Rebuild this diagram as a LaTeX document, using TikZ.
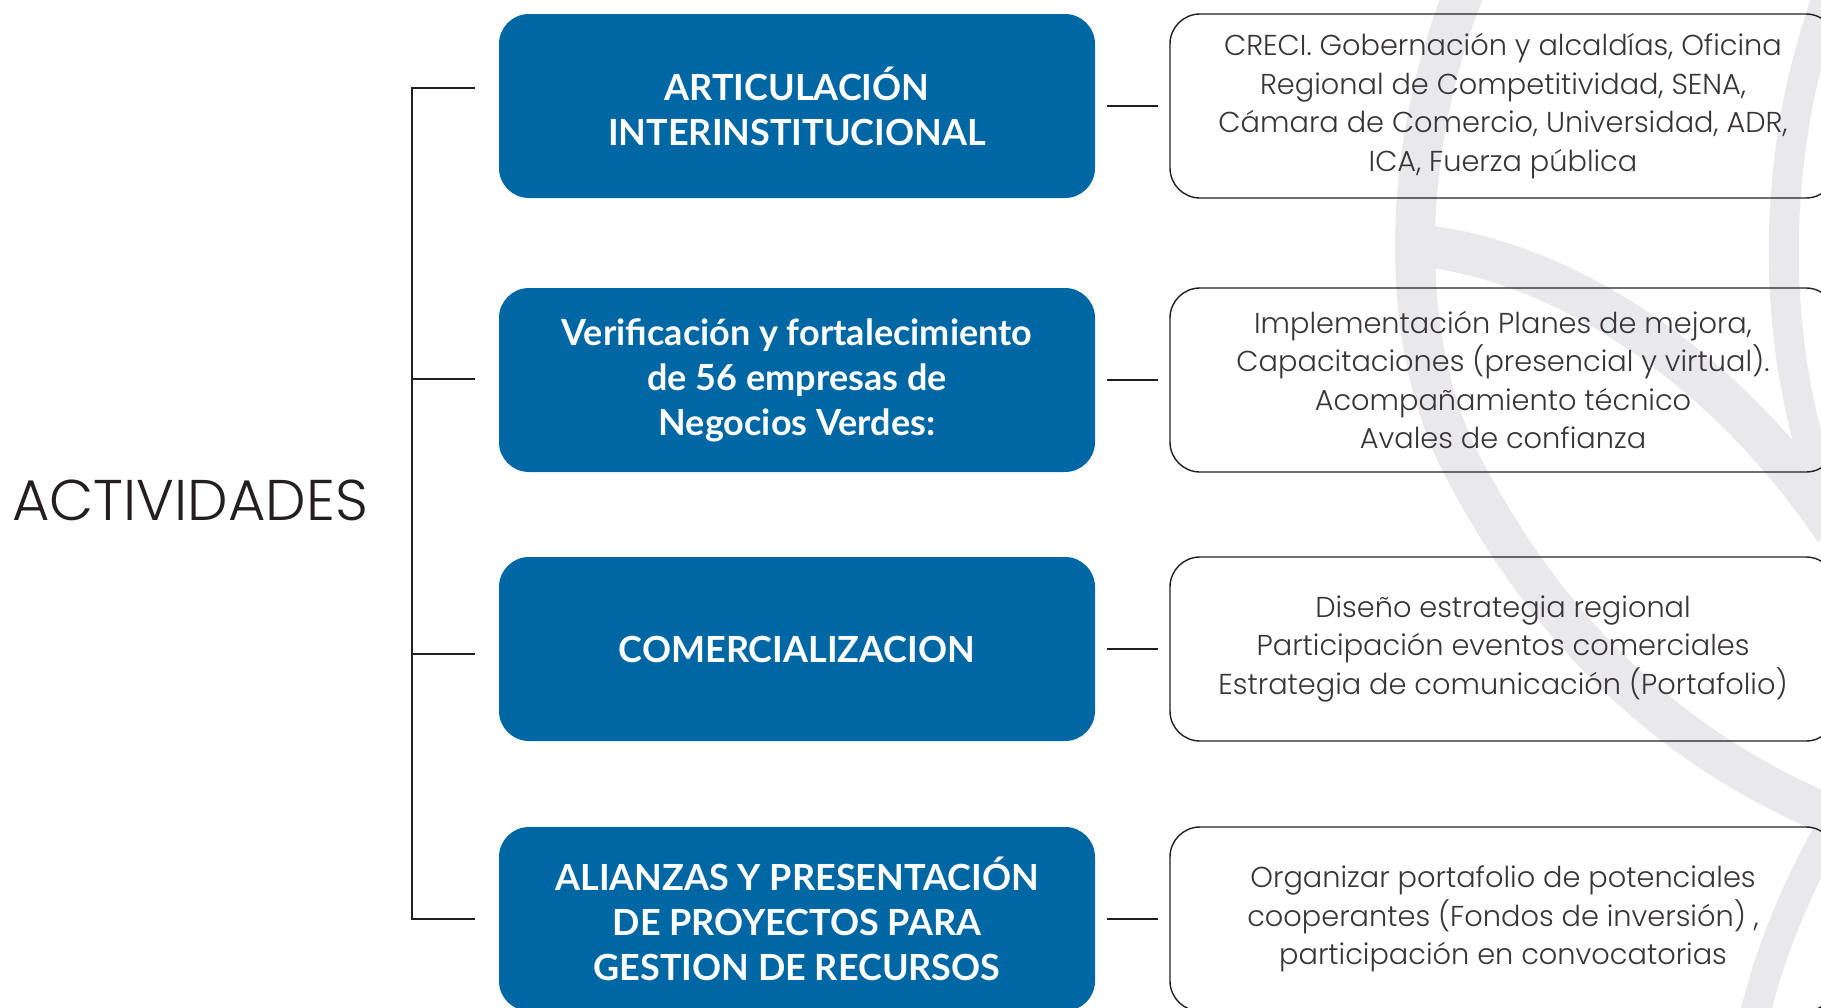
\documentclass[tikz,border=0pt]{standalone}
\usepackage{fontspec}
\setmainfont{Lato}
\newfontfamily\lightfont{Poppins Light}
\definecolor{azul}{HTML}{0067A5}
\definecolor{gris}{HTML}{E9E9EB}
\definecolor{tinta}{HTML}{231F20}
\begin{document}
\begin{tikzpicture}[x=0.5pt,y=-0.5pt]
\tikzstyle{actividad}=[rectangle,rounded corners=15pt,fill=azul,text=white,minimum width=298pt,minimum height=92pt,align=center,font=\fontsize{18}{22.5}\selectfont\bfseries]
\tikzstyle{detalle}=[rectangle,rounded corners=15pt,draw=tinta,line width=0.7pt,minimum width=333pt,minimum height=92pt,align=center,text=tinta!90,font=\fontsize{14.4}{19.25}\selectfont\lightfont]
\tikzstyle{marca}=[draw=gris,line cap=butt]
\tikzstyle{linea}=[draw=tinta,line width=1pt]
\clip (0,0) rectangle (1821,1007);
% logo de fondo
\draw[marca,line width=20pt] (1465,-10) .. controls (1400,150) and (1395,350) .. (1470,480) .. controls (1540,610) and (1650,740) .. (1830,815);
\draw[marca,line width=15pt] (1830,-10) .. controls (1770,150) and (1765,350) .. (1835,520);
\draw[marca,line width=21pt] (1425,246) .. controls (1560,262) and (1720,360) .. (1835,530);
\draw[marca,line width=15pt] (1835,820) .. controls (1800,880) and (1770,950) .. (1755,1015);
% titulo
\node[inner sep=0pt,text=tinta,font=\fontsize{28.7}{32}\selectfont\lightfont](titulo) at (190,500) {ACTIVIDADES};
% actividades
\node[actividad](a1) at (797,106) {ARTICULACIÓN\\INTERINSTITUCIONAL};
\node[actividad](a2) at (797,380) {Verificación y fortalecimiento\\de 56 empresas de\\Negocios Verdes:};
\node[actividad](a3) at (797,649) {COMERCIALIZACION};
\node[actividad](a4) at (797,919) {ALIANZAS Y PRESENTACIÓN\\DE PROYECTOS PARA\\GESTION DE RECURSOS};
% detalles
\node[detalle](d1) at (1503,106) {CRECI. Gobernación y alcaldías, Oficina\\Regional de Competitividad, SENA,\\Cámara de Comercio, Universidad, ADR,\\ICA, Fuerza pública};
\node[detalle](d2) at (1503,380) {Implementación Planes de mejora,\\Capacitaciones (presencial y virtual).\\Acompañamiento técnico\\Avales de confianza};
\node[detalle](d3) at (1503,649) {Diseño estrategia regional\\Participación eventos comerciales\\Estrategia de comunicación (Portafolio)};
\node[detalle](d4) at (1503,919) {Organizar portafolio de potenciales\\cooperantes (Fondos de inversión) ,\\participación en convocatorias};
% llave
\coordinate (s1) at (412,88);
\coordinate (s2) at (412,379);
\coordinate (s3) at (412,654);
\coordinate (s4) at (412,919);
\draw[linea] ([xshift=-12pt]a1.west |- s1) -- (s1) -- (s4) -- ([xshift=-12pt]a4.west |- s4);
\draw[linea] (s2) -- ([xshift=-12pt]a2.west |- s2);
\draw[linea] (s3) -- ([xshift=-12pt]a3.west |- s3);
% uniones
\draw[linea] ([xshift=6pt]a1.east) -- ([xshift=-5.5pt]d1.west);
\draw[linea] ([xshift=6pt]a2.east) -- ([xshift=-5.5pt]d2.west);
\draw[linea] ([xshift=6pt]a3.east) -- ([xshift=-5.5pt]d3.west);
\draw[linea] ([xshift=6pt]a4.east) -- ([xshift=-5.5pt]d4.west);
\end{tikzpicture}
\end{document}
